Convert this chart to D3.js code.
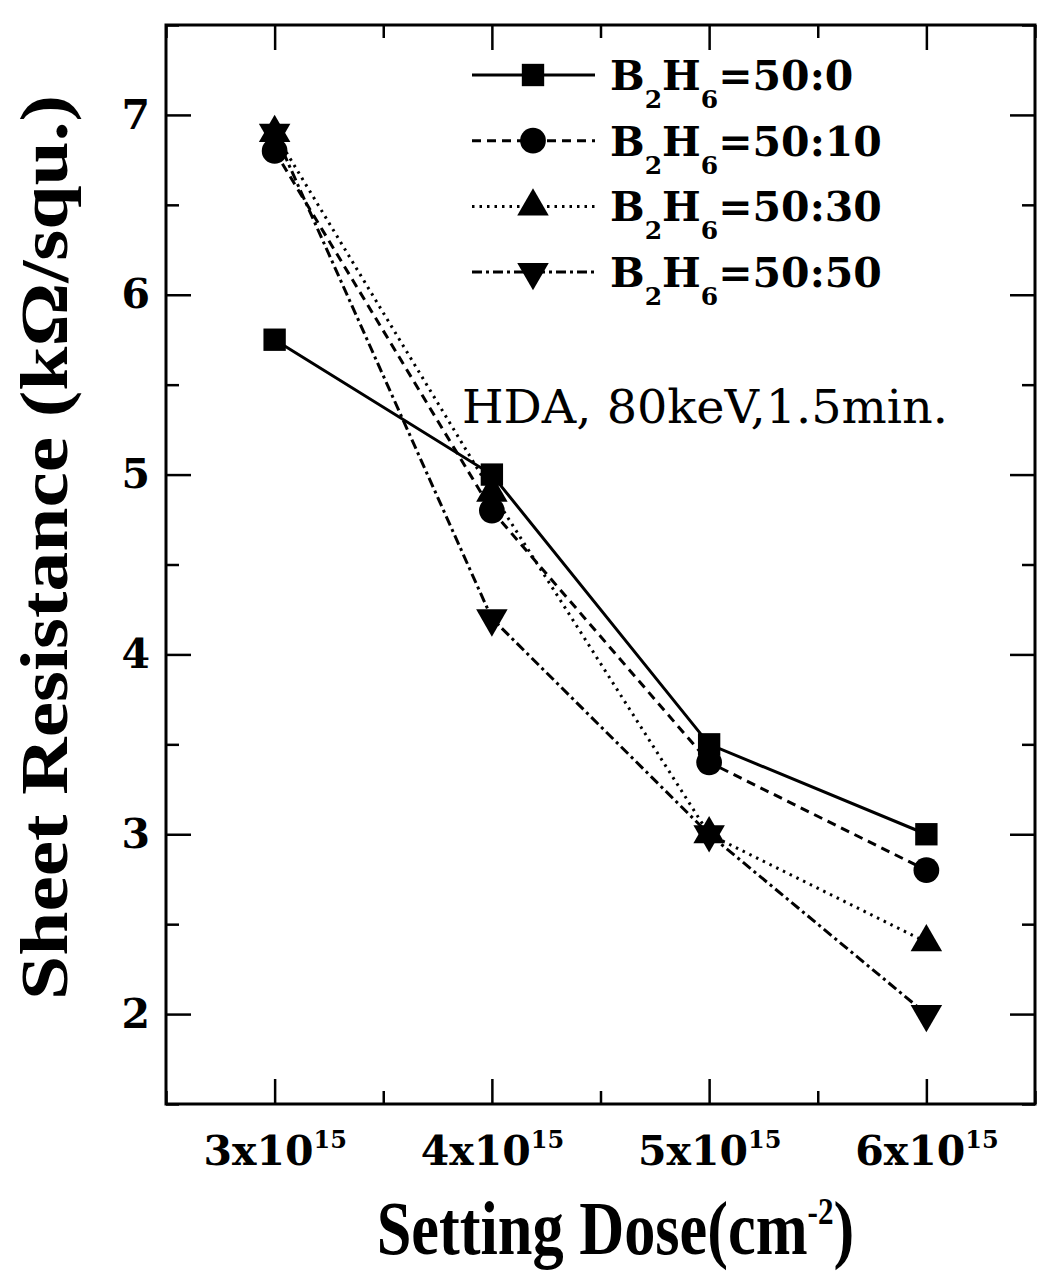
<!DOCTYPE html>
<html>
<meta charset="utf-8">
<script src="https://d3js.org/d3.v7.min.js"></script>
<style>
  body { margin: 0; background: #fff; }
  .tick line { stroke: #000; stroke-width: 2.5; }
</style>
<body>
<div id="chart"></div>
<script>
// data
var doses = [3, 4, 5, 6];               // x 10^15 cm^-2
var r50_0  = [5.75, 5.0, 3.5, 3.0];
var r50_10 = [6.8, 4.8, 3.4, 2.8];
var r50_30 = [6.9, 4.9, 3.0, 2.4];
var r50_50 = [6.9, 4.2, 3.0, 2.0];
var ratios = ["50:0", "50:10", "50:30", "50:50"];
var xTicks = [3, 4, 5, 6];
var yTicks = [2, 3, 4, 5, 6, 7];

var W = 1037, H = 1276;
var margin = {top: 25, right: 2, bottom: 172, left: 166},
    width = W - margin.left - margin.right,
    height = H - margin.top - margin.bottom;

var x = d3.scaleLinear().domain([2.5, 6.5]).range([0, width]);
var y = d3.scaleLinear().domain([1.5, 7.5]).range([height, 0]);

var svg = d3.select("#chart").append("svg")
    .attr("width", W)
    .attr("height", H)
  .append("g")
    .attr("transform", "translate(" + margin.left + "," + margin.top + ")");

var major = 25, minor = 13;
var xMinor = [2.5, 3.5, 4.5, 5.5, 6.5];
var yMinor = [1.5, 2.5, 3.5, 4.5, 5.5, 6.5, 7.5];

// ticks pointing in, on all four sides
function addAxis(ax, tr) {
  var g = svg.append("g").attr("transform", tr).call(ax);
  g.select(".domain").remove();
  return g;
}
var xb = addAxis(d3.axisBottom(x).tickValues(xTicks).tickSize(-major).tickPadding(20),
                 "translate(0," + height + ")");
addAxis(d3.axisBottom(x).tickValues(xMinor).tickSize(-minor).tickFormat(""), "translate(0," + height + ")");
addAxis(d3.axisTop(x).tickValues(xTicks).tickSize(-major).tickFormat(""), "translate(0,0)");
addAxis(d3.axisTop(x).tickValues(xMinor).tickSize(-minor).tickFormat(""), "translate(0,0)");
var yl = addAxis(d3.axisLeft(y).tickValues(yTicks).tickSize(-major).tickPadding(16).tickFormat(d3.format("d")),
                 "translate(0,0)");
addAxis(d3.axisLeft(y).tickValues(yMinor).tickSize(-minor).tickFormat(""), "translate(0,0)");
addAxis(d3.axisRight(y).tickValues(yTicks).tickSize(-major).tickFormat(""), "translate(" + width + ",0)");
addAxis(d3.axisRight(y).tickValues(yMinor).tickSize(-minor).tickFormat(""), "translate(" + width + ",0)");

yl.selectAll("text")
    .style("font-family", "DejaVu Serif")
    .style("font-weight", "bold")
    .style("font-size", "41px")
    .attr("fill", "#000");

xb.selectAll("text")
    .style("font-family", "DejaVu Serif")
    .style("font-weight", "bold")
    .style("font-size", "41px")
    .attr("fill", "#000")
    .attr("dy", "1.0em")
    .each(function(d) {
      var t = d3.select(this).text(null);
      t.append("tspan").text(d + "x10");
      t.append("tspan").attr("dy", "-0.7em").style("font-size", "24px").text("15");
    });

// frame
svg.append("rect")
    .attr("x", 0).attr("y", 0)
    .attr("width", width).attr("height", height)
    .attr("fill", "none")
    .attr("stroke", "#000")
    .attr("stroke-width", 3);

var series = [
  {name: ratios[0], vals: r50_0,  dash: null,         sym: d3.symbolSquare,   size: 500, rot: 0},
  {name: ratios[1], vals: r50_10, dash: "9,6",        sym: d3.symbolCircle,   size: 520, rot: 0},
  {name: ratios[2], vals: r50_30, dash: "2.5,5",      sym: d3.symbolTriangle, size: 430, rot: 0},
  {name: ratios[3], vals: r50_50, dash: "10,4,3,4",   sym: d3.symbolTriangle, size: 430, rot: 180}
];

var line = d3.line()
    .x(function(d, i) { return x(doses[i]); })
    .y(function(d) { return y(d); });

series.forEach(function(s) {
  svg.append("path")
      .datum(s.vals)
      .attr("fill", "none")
      .attr("stroke", "#000")
      .attr("stroke-width", 3)
      .attr("stroke-dasharray", s.dash)
      .attr("d", line);
  svg.selectAll(null)
      .data(s.vals)
    .enter().append("path")
      .attr("d", d3.symbol().type(s.sym).size(s.size))
      .attr("fill", "#000")
      .attr("transform", function(d, i) {
        return "translate(" + x(doses[i]) + "," + y(d) + ") rotate(" + s.rot + ")";
      });
});

// legend
var legend = svg.append("g").attr("transform", "translate(306,50)");
series.forEach(function(s, i) {
  var row = legend.append("g").attr("transform", "translate(0," + (i * 65.7) + ")");
  row.append("line")
      .attr("x1", 0).attr("x2", 123)
      .attr("y1", 0).attr("y2", 0)
      .attr("stroke", "#000")
      .attr("stroke-width", 3)
      .attr("stroke-dasharray", s.dash);
  row.append("path")
      .attr("d", d3.symbol().type(s.sym).size(s.size))
      .attr("transform", "translate(61,0) rotate(" + s.rot + ")")
      .attr("fill", "#000");
  var t = row.append("text")
      .attr("x", 138).attr("y", 15)
      .style("font-family", "DejaVu Serif")
      .style("font-weight", "bold")
      .style("font-size", "41px");
  t.append("tspan").text("B");
  t.append("tspan").attr("dy", 18).style("font-size", "25px").text("2");
  t.append("tspan").attr("dy", -18).text("H");
  t.append("tspan").attr("dy", 18).style("font-size", "25px").text("6");
  t.append("tspan").attr("dy", -18).text("=" + s.name);
});

// annotation
svg.append("text")
    .attr("x", 296).attr("y", 398)
    .attr("textLength", 486)
    .attr("lengthAdjust", "spacingAndGlyphs")
    .style("font-family", "DejaVu Serif")
    .style("font-size", "46px")
    .text("HDA, 80keV,1.5min.");

// axis titles
svg.append("text")
    .attr("transform", "translate(-99," + (height / 2 - 17) + ") rotate(-90)")
    .attr("text-anchor", "middle")
    .attr("textLength", 905)
    .attr("lengthAdjust", "spacingAndGlyphs")
    .style("font-family", "Liberation Serif")
    .style("font-weight", "bold")
    .style("font-size", "68px")
    .text("Sheet Resistance (k\u03A9/squ.)");

var xt = svg.append("text")
    .attr("transform", "translate(" + (x(4.5) + 15) + "," + (height + 150) + ") scale(0.82,1)")
    .attr("text-anchor", "middle")
    .style("font-family", "Liberation Serif")
    .style("font-weight", "bold")
    .style("font-size", "76px");
xt.append("tspan").text("Setting Dose(cm");
xt.append("tspan").attr("dy", -30).style("font-size", "38px").text("-2");
xt.append("tspan").attr("dy", 30).text(")");
</script>
</body>
</html>
